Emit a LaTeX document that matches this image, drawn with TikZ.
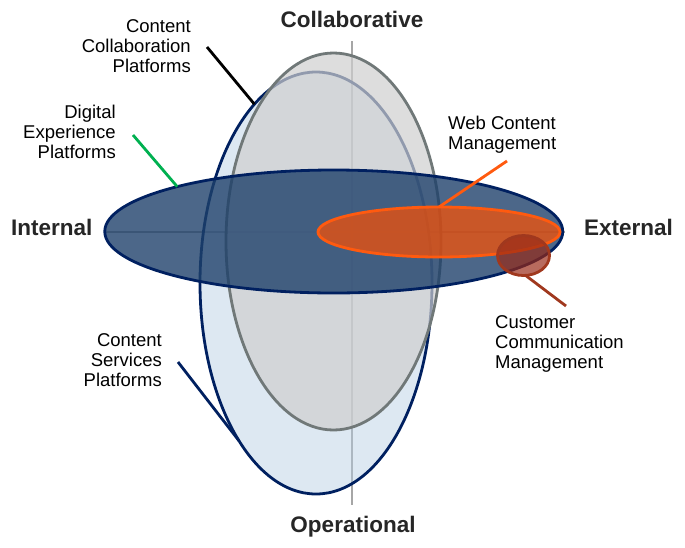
\documentclass[tikz,border=0pt]{standalone}
\usepackage{fontspec}
\setmainfont{Liberation Sans}
\usetikzlibrary{shapes.geometric}

\definecolor{navy}{HTML}{002060}
\definecolor{axisgray}{HTML}{A6A6A6}
\definecolor{axistext}{HTML}{262626}
\definecolor{csfill}{HTML}{B4CCE2}
\definecolor{ccfill}{HTML}{CFCFCF}
\definecolor{ccline}{HTML}{707878}
\definecolor{dxfill}{HTML}{1F416B}
\definecolor{wcmorange}{HTML}{FF5A0F}
\definecolor{wcmfill}{HTML}{FF5000}
\definecolor{ccmred}{HTML}{A0381E}
\definecolor{ccmfill}{HTML}{982916}
\definecolor{dxgreen}{HTML}{00B050}

\begin{document}
\begin{tikzpicture}[x=1pt, y=-1pt,
    blob/.style={ellipse, draw, line width=2.8pt, inner sep=0pt, outer sep=0pt},
    lbl/.style={font=\fontsize{18.5}{20}\selectfont, inner sep=0pt},
    pole/.style={font=\fontsize{22.5}{24}\selectfont\bfseries, text=axistext, inner sep=0pt},
    lead/.style={line width=2.8pt}]
    \useasboundingbox (0,0) rectangle (685,547);

    % axes
    \draw[axisgray, line width=1.5pt] (352,41) -- (352,505);
    \draw[axisgray, line width=1.5pt] (104,232) -- (565,232);

    % the five areas
    \node[blob, draw=navy, fill=csfill, fill opacity=.45,
          minimum width=232pt, minimum height=422pt] (csp) at (316,283) {};
    \node[blob, draw=ccline, fill=ccfill, fill opacity=.7,
          minimum width=215pt, minimum height=377pt] (ccp) at (333.5,241.5) {};
    \node[blob, draw=navy, fill=dxfill, fill opacity=.8,
          minimum width=458pt, minimum height=123pt] (dxp) at (333.75,231.5) {};
    \node[blob, draw=wcmorange, fill=wcmfill, fill opacity=.7,
          minimum width=242pt, minimum height=50pt] (wcm) at (439,232) {};
    \node[blob, draw=ccmred, fill=ccmfill, fill opacity=.69,
          minimum width=52pt, minimum height=40pt] (ccm) at (523.5,255.5) {};

    % poles
    \node[pole, anchor=base] (collab) at (352,27) {Collaborative};
    \node[pole, anchor=base] (oper) at (353,532) {Operational};
    \node[pole, anchor=base west] (intern) at (11,235) {Internal};
    \node[pole, anchor=base west] (extern) at (584,235) {External};

    % labels
    \node[lbl, align=right, anchor=north east] (ccp-label) at (191,19) {Content\\Collaboration\\Platforms};
    \node[lbl, align=right, anchor=north east] (dxp-label) at (116,105) {Digital\\Experience\\Platforms};
    \node[lbl, align=left, anchor=north west] (wcm-label) at (448,116) {Web Content\\Management};
    \node[lbl, align=left, anchor=north west] (ccm-label) at (495,315) {Customer\\Communication\\Management};
    \node[lbl, align=right, anchor=north east] (csp-label) at (162,333) {Content\\Services\\Platforms};

    % leaders
    \coordinate (ccp-end) at (207,47);
    \coordinate (dxp-end) at (133,135);
    \coordinate (wcm-end) at (507,161);
    \coordinate (ccm-end) at (566,306);
    \coordinate (csp-end) at (178,362);
    \draw[lead, black] (ccp-end) -- (csp.109);
    \draw[lead, dxgreen] (dxp-end) -- (dxp.164.7);
    \draw[lead, wcmorange] (wcm-end) -- (wcm.north);
    \draw[lead, ccmred] (ccm.-84) -- (ccm-end);
    \draw[lead, navy] (csp-end) -- (csp.244.3);
\end{tikzpicture}
\end{document}
